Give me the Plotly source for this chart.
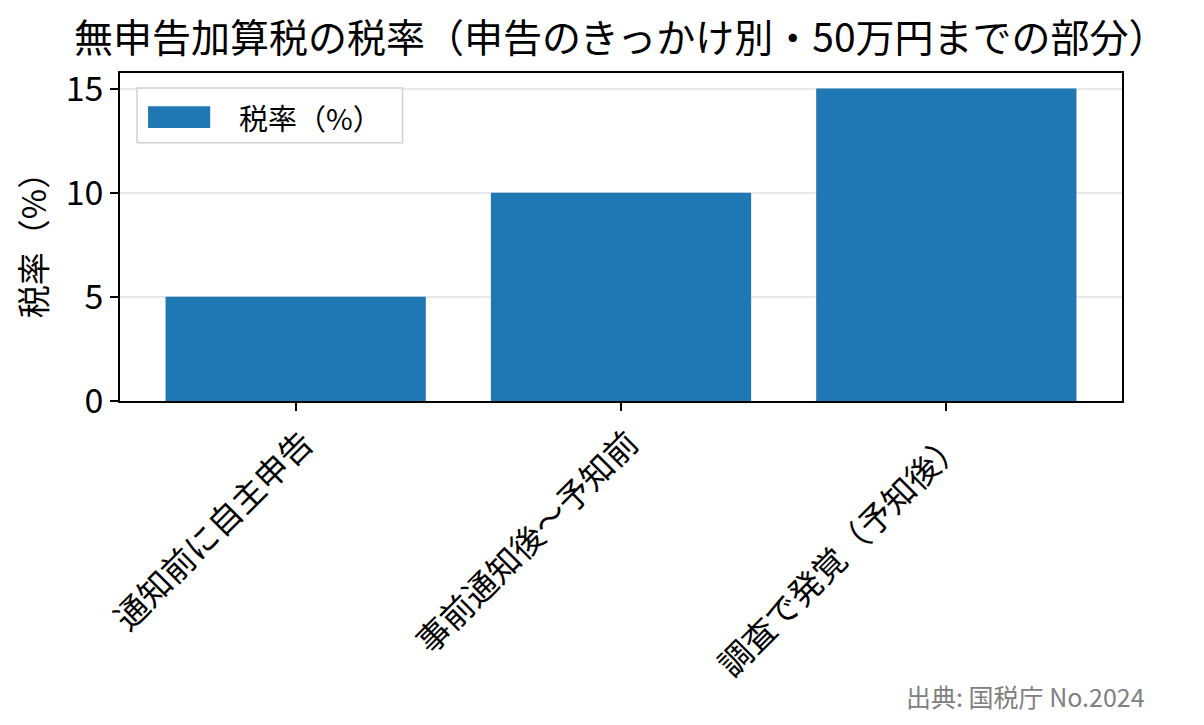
import plotly.graph_objects as go

# データ
kikkake = ["通知前に自主申告", "事前通知後～予知前", "調査で発覚（予知後）"]
zeiritsu = [5, 10, 15]
series_name = "税率（%）"
y_ticks = [0, 5, 10, 15]

font_jp = "Noto Sans CJK JP"
bar_color = "#1f77b4"

fig = go.Figure()
fig.add_trace(go.Bar(
    x=kikkake, y=zeiritsu, name=series_name,
    marker=dict(color=bar_color, line=dict(width=0)),
    width=0.8, showlegend=False,
))

# ページの余白(8px)を見込んだサイズ
fig.update_layout(
    width=1188, height=709,
    margin=dict(l=112, r=74, t=65, b=316),
    paper_bgcolor="white", plot_bgcolor="white",
    font=dict(family=font_jp, color="black"),
)

# タイトル（annotationで配置）
fig.add_annotation(text="無申告加算税の税率（申告のきっかけ別・50万円までの部分）",
                   xref="paper", yref="paper", x=0.50, y=1.115,
                   xanchor="center", yanchor="middle", showarrow=False,
                   font=dict(size=39, family=font_jp, color="black"))

fig.update_xaxes(
    range=[-0.54, 2.54], tickangle=-45,
    showline=True, linecolor="black", linewidth=1.5, mirror=True,
    ticks="outside", ticklen=8, tickcolor="black", tickwidth=1.5,
    tickfont=dict(size=33, family=font_jp),
    ticklabelshift=8,
    showgrid=False,
)
fig.update_yaxes(
    range=[0, 15.75], tickvals=y_ticks,
    showline=True, linecolor="black", linewidth=1.5, mirror=True,
    ticks="outside", ticklen=8, tickcolor="black", tickwidth=1.5,
    tickfont=dict(size=34, family=font_jp),
    showgrid=True, gridcolor="#e8e8e8", gridwidth=1.5,
    zeroline=False,
    title=dict(text=series_name, font=dict(size=33, family=font_jp), standoff=12),
)

# 凡例（matplotlib風に手書き）
fig.add_shape(type="rect", xref="paper", yref="paper",
              x0=0.017, x1=0.282, y0=0.787, y1=0.954,
              line=dict(color="#d0d0d0", width=1.5), fillcolor="rgba(255,255,255,0.8)")
fig.add_shape(type="rect", xref="paper", yref="paper",
              x0=0.028, x1=0.090, y0=0.832, y1=0.899,
              line=dict(width=0), fillcolor=bar_color)
fig.add_annotation(text=series_name, xref="paper", yref="paper",
                   x=0.117, y=0.866, xanchor="left", yanchor="middle",
                   showarrow=False, font=dict(size=29, family=font_jp, color="black"))

# 出典
fig.add_annotation(text="出典: 国税庁 No.2024", xref="paper", yref="paper",
                   x=1.025, y=-0.899, xanchor="right", yanchor="middle",
                   showarrow=False, font=dict(size=25, color="#808080", family=font_jp))

fig.write_html("out.html")
